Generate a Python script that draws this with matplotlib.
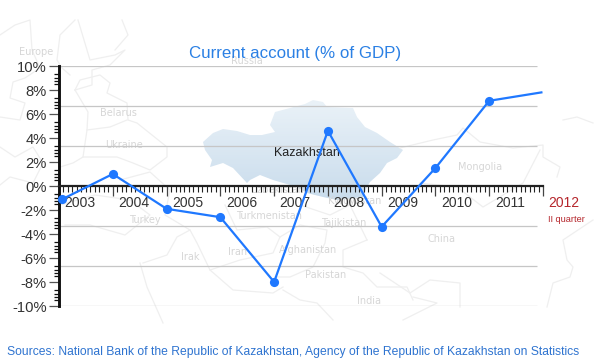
import numpy as np
import matplotlib
matplotlib.use("Agg")
import matplotlib.pyplot as plt
from matplotlib.patches import Polygon
from matplotlib.colors import LinearSegmentedColormap

plt.rcParams['font.family'] = ['Liberation Sans', 'DejaVu Sans']

# chart values
years = [2003, 2004, 2005, 2006, 2007, 2008, 2009, 2010, 2011, 2012]
point_x = [2003.06, 2004, 2005, 2006, 2007, 2008, 2009, 2010, 2011, 2011.97]
current_account = [-1.1, 1.0, -1.9, -2.6, -8.0, 4.6, -3.4, 1.5, 7.1, 7.8]
y_major = [10, 8, 6, 4, 2, 0, -2, -4, -6, -8, -10]
grid_levels = [10, 6.67, 3.33, -3.33, -6.67, -10]
title = "Current account (% of GDP)"
source = "Sources: National Bank of the Republic of Kazakhstan, Agency of the Republic of Kazakhstan on Statistics"

# background map, in pixels of the picture
kazakhstan = [(203,142),(213,133),(223,129),(237,131),(250,135),(262,135),(275,132),(270,125),
              (275,112),(290,108),(305,104),(313,100),(323,102),(327,107),(353,108),(357,117),
              (365,127),(377,133),(390,142),(403,150),(397,158),(387,163),(380,173),(370,182),
              (367,187),(363,197),(337,200),(323,197),(307,193),(297,187),(273,180),(260,175),
              (250,180),(247,183),(233,168),(223,163),(210,167),(212,160),(205,150)]
borders = [
    [(0,35),(15,25),(30,20),(32,50),(40,68),(25,78),(13,82),(10,98),(25,103),(20,120),(0,117)],
    [(75,20),(60,35),(57,60),(62,68),(70,75)],
    [(78,20),(90,60),(115,55),(125,50),(110,65),(92,70),(92,85),(75,90)],
    [(122,20),(128,35),(115,50)],
    [(75,90),(80,80),(100,75),(110,83),(107,93),(127,103),(128,120),(137,123),(167,147),(167,157),
     (150,170),(133,163),(117,157),(83,157),(73,163),(60,167)],
    [(75,90),(88,112),(87,130),(83,157)],
    [(87,130),(110,127),(127,120)],
    [(0,147),(15,157),(33,147),(43,163),(33,183),(10,177),(0,185)],
    [(60,205),(95,195),(130,200),(150,215),(125,235),(90,225),(65,225)],
    [(120,180),(150,172),(170,190),(165,215),(190,230),(197,243),(210,270),(233,290),(273,293),(283,287)],
    [(143,263),(167,255),(177,237),(190,230)],
    [(140,263),(147,287),(163,323)],
    [(210,270),(240,260),(273,253),(280,237),(267,227),(237,230),(225,205)],
    [(280,237),(300,225),(327,230),(325,243),(313,267),(290,277),(275,277)],
    [(283,290),(300,300),(317,303),(333,320)],
    [(367,240),(343,250),(343,267),(363,273),(377,287),(407,287),(413,300)],
    [(300,205),(330,215),(350,205),(367,240)],
    [(400,148),(433,140),(457,135),(463,128),(480,142),(513,148),(543,145),(543,157),(560,167),(557,177)],
    [(563,120),(577,117),(593,123)],
    [(420,183),(457,187),(483,207),(523,183),(540,150)],
    [(593,220),(563,240),(567,260),(573,267),(570,277),(553,283),(547,307)],
    [(380,273),(410,293),(430,280),(460,283),(460,307)],
    [(413,297),(437,303),(403,320)],
]
places = [("Europe",36,52),("Russia",247,61),("Belarus",118,113),("Ukraine",124,145),("Turkey",145,220),
          ("Irak",190,257),("Iran",238,252),("Turkmenistan",269,216),("Uzbekistan",277,190),
          ("Kyrgyzstan",355,201),("Tajikistan",344,223),("Afghanistan",308,250),("Pakistan",326,275),
          ("India",369,301),("China",441,239),("Mongolia",480,167)]

fig = plt.figure(figsize=(5.94, 3.6), dpi=100)

bg = fig.add_axes([0, 0, 1, 1])
bg.set_xlim(0, 594)
bg.set_ylim(360, 0)
bg.axis('off')
for line in borders:
    xs, ys = zip(*line)
    bg.plot(xs, ys, color='#efefef', lw=0.9)
for name, px, py in places:
    bg.text(px, py, name, color='#d6d6d6', fontsize=7, family='DejaVu Sans', ha='center', va='center')

cmap = LinearSegmentedColormap.from_list('kz', ['#eaf2f8', '#c9dcec'])
patch = Polygon(kazakhstan, closed=True, fc='none', ec='none')
bg.add_patch(patch)
img = bg.imshow(np.linspace(0, 1, 100).reshape(-1, 1), cmap=cmap, aspect='auto', extent=(200, 405, 200, 100))
img.set_clip_path(patch)
bg.set_xlim(0, 594)
bg.set_ylim(360, 0)

bg.text(307, 152.5, "Kazakhstan", color='#222222', fontsize=9, ha='center', va='center')
bg.text(295, 53.5, title, color='#2b80e4', fontsize=12.2, ha='center', va='center')
bg.text(293.5, 351.5, source, color='#2f74d0', fontsize=8.7, ha='center', va='center')

ax = fig.add_axes([59/594, 1-306/360, 484/594, 240/360])
ax.patch.set_alpha(0)
ax.set_xlim(2003, 2012)
ax.set_ylim(-10, 10)

ax.hlines(grid_levels, 2003, 2011.885, color='#c6c6c6', lw=0.9, zorder=1)

for s in ['top', 'right']:
    ax.spines[s].set_visible(False)
ax.spines['left'].set_linewidth(2.1)
ax.spines['left'].set_color('#111111')
ax.spines['bottom'].set_position(('data', 0))
ax.spines['bottom'].set_linewidth(1.6)
ax.spines['bottom'].set_color('#222222')

ax.set_yticks(y_major)
ax.set_yticklabels([f"{v}%" for v in y_major])
ax.tick_params(axis='y', which='major', length=7.2, width=0.9, color='#555555',
               labelsize=10.6, labelcolor='#333333', pad=1.5)
y_minor = [m - d for m in y_major[:-1] for d in (0.7, 0.98, 1.26, 1.54)]
ax.set_yticks(y_minor, minor=True)
ax.tick_params(axis='y', which='minor', length=3.6, width=0.9, color='#111111')

ax.set_xticks(years)
ax.set_xticklabels([])
ax.set_xticks([y + m/12 for y in years[:-1] for m in range(1, 12)], minor=True)
ax.tick_params(axis='x', which='major', length=7.2, width=0.9, color='#444444')
ax.tick_params(axis='x', which='minor', length=4.3, width=0.8, color='#222222')

for y in years:
    col = '#b5262c' if y == 2012 else '#333333'
    ax.annotate(str(y), (y, 0), xytext=(4, -12.5), textcoords='offset points', color=col,
                fontsize=10, ha='left', va='center')
ax.annotate("II quarter", (2012, 0), xytext=(3.5, -24), textcoords='offset points',
            color='#b5262c', fontsize=6.6, ha='left', va='center')

ax.plot(point_x, current_account, color='#1f78ff', lw=1.6, zorder=5, clip_on=False)
ax.plot(point_x[:-1], current_account[:-1], 'o', color='#1f78ff', ms=6.6, mew=0, zorder=6, clip_on=False)

fig.savefig("out.png", dpi=100)
